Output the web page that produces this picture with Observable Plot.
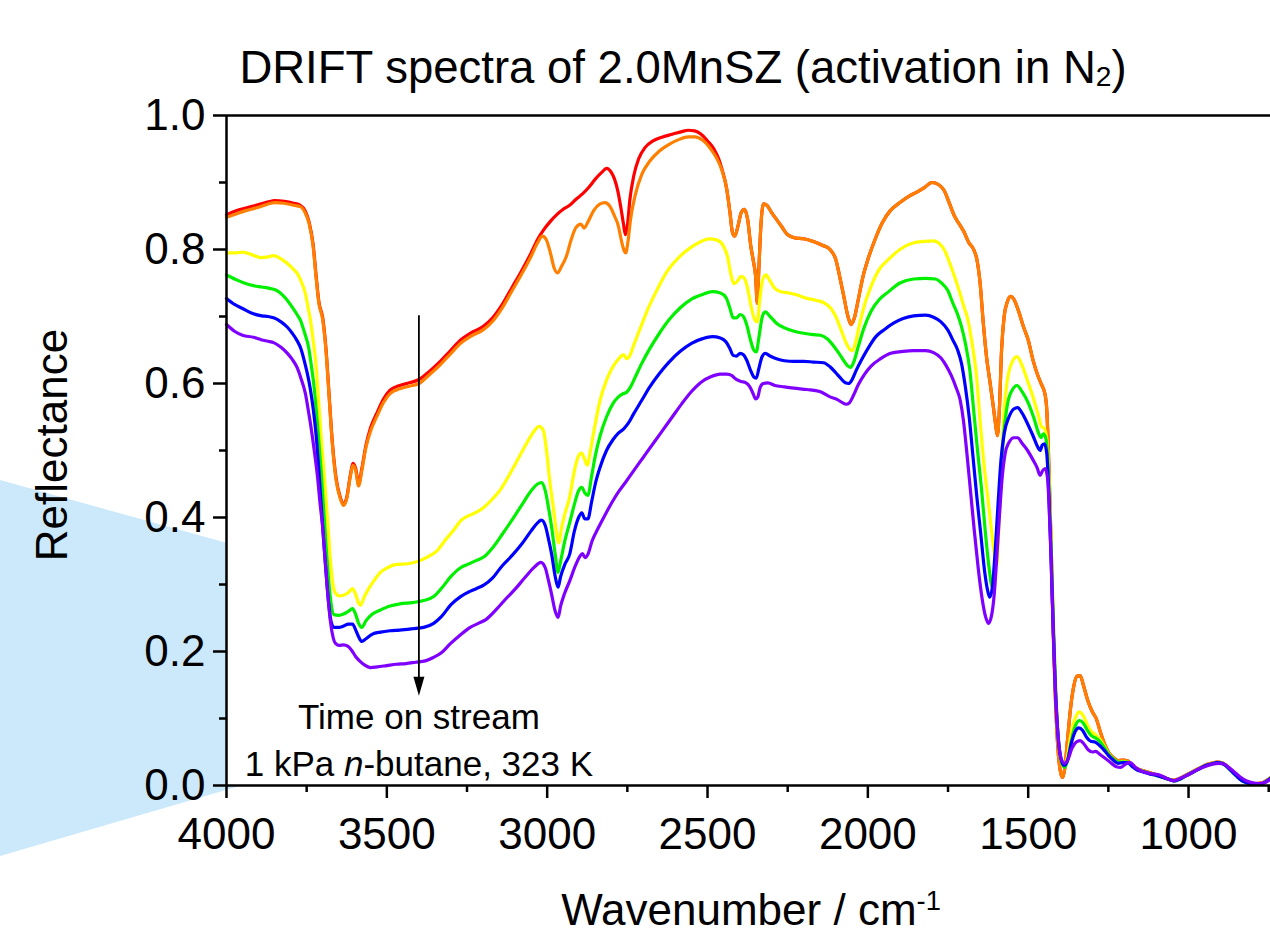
<!DOCTYPE html>
<html>
<head>
<meta charset="utf-8">
<script src="https://cdn.jsdelivr.net/npm/d3@7"></script>
<script src="https://cdn.jsdelivr.net/npm/@observablehq/plot@0.6"></script>
<style>
html, body { margin: 0; padding: 0; background: #fff; overflow: hidden; }
#wrap { position: relative; width: 1270px; height: 934px; font-family: "Liberation Sans", Arial, sans-serif; color: #000; }
#deco { position: absolute; left: 0; top: 0; }
#chart { position: absolute; left: 0; top: 0; }
.txt { position: absolute; white-space: nowrap; line-height: 1; }
#title { left: 0; width: 1366px; top: 45px; text-align: center; font-size: 45.5px; }
#title sub { font-size: 0.62em; vertical-align: -0.12em; line-height: 0; }
#ylab { left: 52px; top: 445px; font-size: 44px; transform: translate(-50%, -50%) rotate(-90deg); }
#xlab { left: 0; width: 1502px; top: 888px; text-align: center; font-size: 44px; }
#xlab sup { font-size: 0.62em; vertical-align: 0.55em; line-height: 0; }
</style>
</head>
<body>
<div id="wrap">
  <svg id="deco" width="1270" height="934"><polygon points="0,480 660,663 0,856" fill="#cce9fb"/></svg>
  <div id="chart"></div>
  <div class="txt" id="title">DRIFT spectra of 2.0MnSZ (activation in N<sub>2</sub>)</div>
  <div class="txt" id="ylab">Reflectance</div>
  <div class="txt" id="xlab">Wavenumber / cm<sup>-1</sup></div>
</div>
<script>
// ---- Data: [wavenumber (cm-1), reflectance] ----
const orange = [[4000,0.848],[3970,0.853],[3940,0.858],[3900,0.863],[3870,0.868],[3850,0.870],[3820,0.869],[3790,0.866],[3770,0.864],[3755,0.855],[3742,0.838],[3730,0.805],[3720,0.755],[3712,0.720],[3700,0.695],[3690,0.650],[3680,0.580],[3670,0.510],[3658,0.455],[3645,0.428],[3635,0.418],[3625,0.428],[3615,0.458],[3605,0.478],[3597,0.470],[3588,0.447],[3578,0.470],[3565,0.505],[3550,0.530],[3530,0.552],[3510,0.572],[3490,0.585],[3460,0.592],[3430,0.596],[3400,0.600],[3370,0.612],[3340,0.625],[3300,0.645],[3270,0.660],[3240,0.670],[3200,0.680],[3170,0.693],[3140,0.713],[3110,0.738],[3080,0.763],[3050,0.790],[3030,0.810],[3015,0.820],[3003,0.815],[2990,0.795],[2978,0.772],[2968,0.765],[2955,0.775],[2940,0.790],[2925,0.815],[2910,0.833],[2895,0.838],[2885,0.832],[2872,0.842],[2855,0.858],[2835,0.868],[2820,0.870],[2805,0.865],[2790,0.850],[2778,0.835],[2768,0.812],[2760,0.798],[2755,0.795],[2748,0.812],[2740,0.845],[2725,0.882],[2705,0.912],[2680,0.932],[2650,0.947],[2620,0.957],[2590,0.964],[2560,0.968],[2540,0.968],[2515,0.963],[2490,0.950],[2470,0.935],[2455,0.918],[2440,0.890],[2430,0.855],[2422,0.825],[2415,0.820],[2405,0.835],[2395,0.855],[2385,0.860],[2375,0.845],[2365,0.805],[2356,0.780],[2350,0.760],[2345,0.720],[2340,0.770],[2333,0.840],[2325,0.868],[2315,0.866],[2300,0.855],[2285,0.845],[2270,0.835],[2250,0.822],[2225,0.817],[2200,0.816],[2170,0.812],[2140,0.806],[2118,0.800],[2100,0.785],[2088,0.760],[2075,0.730],[2062,0.700],[2052,0.688],[2042,0.698],[2030,0.725],[2015,0.760],[2000,0.785],[1980,0.812],[1955,0.840],[1930,0.858],[1900,0.870],[1870,0.880],[1850,0.885],[1825,0.892],[1800,0.900],[1780,0.897],[1762,0.888],[1745,0.868],[1730,0.850],[1715,0.838],[1700,0.826],[1685,0.810],[1670,0.800],[1660,0.785],[1650,0.750],[1640,0.690],[1630,0.640],[1620,0.605],[1610,0.570],[1602,0.540],[1596,0.522],[1590,0.560],[1583,0.650],[1575,0.700],[1565,0.722],[1555,0.730],[1545,0.726],[1530,0.708],[1515,0.685],[1500,0.665],[1485,0.635],[1470,0.612],[1458,0.598],[1448,0.585],[1442,0.560],[1437,0.500],[1432,0.420],[1427,0.330],[1422,0.230],[1416,0.140],[1408,0.060],[1400,0.022],[1393,0.012],[1386,0.025],[1378,0.065],[1368,0.115],[1358,0.148],[1348,0.163],[1338,0.164],[1328,0.150],[1315,0.128],[1300,0.110],[1288,0.100],[1275,0.080],[1262,0.062],[1250,0.050],[1235,0.042],[1220,0.037],[1205,0.038],[1190,0.037],[1175,0.030],[1160,0.025],[1140,0.022],[1120,0.019],[1100,0.016],[1080,0.013],[1060,0.009],[1045,0.008],[1030,0.010],[1010,0.015],[990,0.020],[970,0.025],[950,0.030],[930,0.033],[910,0.035],[895,0.034],[880,0.029],[865,0.022],[850,0.015],[830,0.007],[810,0.004],[790,0.003],[770,0.004],[755,0.008],[740,0.013]];

const redHigh = [[4000,0.852],[3970,0.858],[3940,0.862],[3900,0.867],[3870,0.871],[3850,0.873],[3820,0.872],[3790,0.869],[3770,0.866],[3755,0.858],[3742,0.840],[3730,0.808],[3720,0.758],[3712,0.722],[3700,0.698],[3690,0.653],[3680,0.583],[3670,0.513],[3658,0.458],[3645,0.430],[3635,0.420],[3625,0.430],[3615,0.460],[3605,0.481],[3597,0.473],[3588,0.450],[3578,0.473],[3565,0.508],[3550,0.535],[3530,0.557],[3510,0.577],[3490,0.590],[3460,0.597],[3430,0.601],[3400,0.606],[3370,0.617],[3340,0.630],[3300,0.650],[3270,0.665],[3240,0.675],[3200,0.685],[3170,0.698],[3140,0.718],[3110,0.743],[3080,0.768],[3050,0.795],[3030,0.815],[3010,0.830],[2990,0.842],[2970,0.852],[2950,0.860],[2930,0.866],[2910,0.875],[2890,0.883],[2870,0.893],[2850,0.905],[2830,0.915],[2815,0.921],[2800,0.915],[2790,0.905],[2780,0.888],[2770,0.862],[2762,0.838],[2756,0.822],[2750,0.835],[2742,0.875],[2730,0.910],[2715,0.935],[2695,0.952],[2670,0.962],[2640,0.968],[2610,0.972],[2580,0.976],[2560,0.978],[2540,0.977],[2520,0.972],[2500,0.962],[2480,0.950],[2465,0.935],[2455,0.920]];
// below 2455 cm-1 the red spectrum coincides with the orange one
const red = redHigh.concat(orange.filter(d => d[0] < 2455));

const yellow = [[4000,0.795],[3970,0.795],[3950,0.796],[3920,0.792],[3894,0.788],[3870,0.789],[3853,0.791],[3830,0.786],[3810,0.779],[3790,0.770],[3779,0.764],[3765,0.750],[3754,0.734],[3745,0.712],[3738,0.694],[3730,0.665],[3722,0.634],[3715,0.590],[3707,0.534],[3698,0.480],[3691,0.436],[3683,0.385],[3676,0.336],[3668,0.300],[3660,0.287],[3648,0.283],[3635,0.284],[3620,0.288],[3607,0.294],[3597,0.285],[3588,0.272],[3582,0.269],[3570,0.282],[3555,0.295],[3541,0.305],[3520,0.318],[3498,0.325],[3470,0.330],[3435,0.331],[3395,0.336],[3370,0.342],[3342,0.351],[3320,0.365],[3292,0.381],[3270,0.395],[3248,0.402],[3220,0.408],[3198,0.415],[3170,0.428],[3145,0.442],[3120,0.462],[3090,0.488],[3065,0.510],[3042,0.528],[3025,0.536],[3012,0.530],[3002,0.500],[2992,0.455],[2980,0.412],[2970,0.375],[2964,0.362],[2955,0.385],[2945,0.405],[2930,0.430],[2915,0.470],[2902,0.492],[2893,0.496],[2884,0.488],[2875,0.478],[2865,0.500],[2852,0.535],[2835,0.575],[2815,0.605],[2795,0.625],[2775,0.638],[2762,0.643],[2752,0.637],[2742,0.642],[2728,0.660],[2710,0.682],[2685,0.712],[2655,0.742],[2625,0.768],[2590,0.788],[2555,0.802],[2520,0.812],[2495,0.816],[2470,0.814],[2450,0.805],[2438,0.790],[2428,0.765],[2418,0.749],[2408,0.752],[2395,0.760],[2385,0.757],[2375,0.742],[2364,0.715],[2354,0.697],[2345,0.692],[2337,0.725],[2328,0.755],[2318,0.762],[2305,0.753],[2290,0.742],[2270,0.737],[2245,0.735],[2220,0.732],[2190,0.727],[2160,0.724],[2135,0.720],[2115,0.712],[2100,0.700],[2085,0.682],[2070,0.663],[2058,0.652],[2048,0.649],[2038,0.662],[2025,0.690],[2010,0.718],[1990,0.745],[1965,0.770],[1938,0.784],[1900,0.800],[1857,0.810],[1825,0.812],[1795,0.813],[1775,0.808],[1760,0.798],[1745,0.780],[1730,0.760],[1715,0.738],[1700,0.714],[1688,0.695],[1675,0.660],[1662,0.615],[1650,0.545],[1638,0.480],[1626,0.430],[1613,0.375],[1603,0.337],[1598,0.328],[1592,0.380],[1585,0.460],[1575,0.560],[1564,0.608],[1550,0.632],[1535,0.640],[1520,0.628],[1502,0.604],[1485,0.580],[1468,0.552],[1458,0.535],[1452,0.534],[1446,0.528],[1440,0.505],[1434,0.440],[1428,0.350],[1422,0.250],[1415,0.150],[1407,0.075],[1398,0.040],[1388,0.028],[1378,0.042],[1366,0.078],[1352,0.102],[1340,0.110],[1328,0.104],[1315,0.090],[1302,0.080],[1290,0.076],[1275,0.068],[1262,0.058],[1250,0.048],[1235,0.040],[1220,0.035],[1205,0.036],[1190,0.035],[1175,0.029],[1160,0.024],[1140,0.021],[1120,0.018],[1100,0.015],[1080,0.012],[1060,0.009],[1045,0.007],[1030,0.009],[1010,0.014],[990,0.019],[970,0.024],[950,0.029],[930,0.032],[910,0.034],[895,0.033],[880,0.028],[865,0.021],[850,0.014],[830,0.006],[810,0.003],[790,0.002],[770,0.003],[755,0.007],[740,0.012]];

const green = [[4000,0.762],[3970,0.755],[3945,0.750],[3916,0.746],[3890,0.744],[3865,0.742],[3840,0.738],[3825,0.732],[3810,0.724],[3795,0.714],[3780,0.703],[3769,0.694],[3756,0.675],[3744,0.654],[3735,0.625],[3727,0.595],[3720,0.560],[3713,0.520],[3705,0.470],[3698,0.420],[3690,0.362],[3682,0.310],[3674,0.272],[3665,0.255],[3650,0.254],[3635,0.256],[3620,0.260],[3607,0.264],[3597,0.255],[3588,0.242],[3578,0.236],[3565,0.246],[3545,0.256],[3520,0.262],[3490,0.268],[3460,0.271],[3420,0.273],[3385,0.276],[3354,0.282],[3330,0.294],[3300,0.312],[3270,0.325],[3248,0.330],[3220,0.336],[3198,0.341],[3170,0.355],[3140,0.375],[3110,0.396],[3080,0.418],[3050,0.440],[3030,0.450],[3018,0.452],[3006,0.440],[2996,0.415],[2986,0.385],[2975,0.345],[2966,0.318],[2958,0.335],[2945,0.365],[2930,0.392],[2915,0.420],[2902,0.440],[2892,0.445],[2883,0.437],[2873,0.433],[2862,0.460],[2850,0.492],[2835,0.522],[2815,0.550],[2795,0.570],[2778,0.580],[2762,0.585],[2752,0.587],[2740,0.595],[2725,0.610],[2705,0.630],[2680,0.652],[2650,0.675],[2620,0.695],[2585,0.713],[2550,0.726],[2515,0.733],[2485,0.737],[2460,0.735],[2442,0.728],[2430,0.712],[2420,0.698],[2410,0.698],[2398,0.703],[2388,0.700],[2378,0.688],[2366,0.665],[2356,0.650],[2348,0.647],[2340,0.668],[2330,0.698],[2320,0.707],[2305,0.700],[2285,0.690],[2260,0.683],[2230,0.678],[2200,0.675],[2170,0.673],[2147,0.672],[2125,0.666],[2105,0.655],[2090,0.645],[2075,0.634],[2062,0.626],[2054,0.624],[2044,0.632],[2030,0.655],[2012,0.683],[1990,0.708],[1965,0.725],[1938,0.736],[1900,0.750],[1857,0.756],[1820,0.757],[1790,0.756],[1770,0.750],[1751,0.739],[1735,0.720],[1720,0.703],[1708,0.685],[1695,0.658],[1682,0.620],[1670,0.560],[1658,0.500],[1646,0.445],[1634,0.380],[1622,0.325],[1612,0.296],[1604,0.320],[1596,0.380],[1588,0.445],[1578,0.515],[1565,0.568],[1550,0.590],[1535,0.597],[1518,0.587],[1500,0.571],[1482,0.548],[1466,0.524],[1460,0.519],[1453,0.525],[1446,0.520],[1440,0.495],[1434,0.430],[1428,0.345],[1422,0.250],[1415,0.150],[1406,0.070],[1396,0.035],[1386,0.027],[1376,0.040],[1364,0.070],[1352,0.090],[1340,0.097],[1328,0.093],[1315,0.082],[1302,0.074],[1290,0.071],[1275,0.065],[1262,0.056],[1250,0.047],[1235,0.040],[1220,0.035],[1205,0.035],[1190,0.035],[1175,0.029],[1160,0.024],[1140,0.021],[1120,0.018],[1100,0.015],[1080,0.012],[1060,0.009],[1045,0.007],[1030,0.009],[1010,0.014],[990,0.019],[970,0.024],[950,0.029],[930,0.032],[910,0.034],[895,0.033],[880,0.028],[865,0.021],[850,0.014],[830,0.006],[810,0.003],[790,0.002],[770,0.003],[755,0.007],[740,0.012]];

const blue = [[4000,0.727],[3975,0.718],[3950,0.712],[3916,0.704],[3890,0.701],[3870,0.700],[3853,0.698],[3830,0.692],[3810,0.684],[3795,0.675],[3780,0.664],[3768,0.652],[3758,0.635],[3748,0.615],[3738,0.590],[3729,0.560],[3720,0.520],[3712,0.470],[3705,0.420],[3697,0.365],[3690,0.320],[3682,0.275],[3674,0.245],[3665,0.236],[3650,0.236],[3635,0.238],[3620,0.241],[3607,0.241],[3597,0.232],[3588,0.222],[3578,0.215],[3565,0.219],[3545,0.226],[3520,0.229],[3490,0.231],[3460,0.232],[3420,0.234],[3385,0.236],[3354,0.242],[3330,0.252],[3300,0.270],[3270,0.282],[3248,0.288],[3220,0.294],[3198,0.299],[3170,0.310],[3140,0.328],[3110,0.343],[3080,0.360],[3050,0.380],[3030,0.392],[3018,0.396],[3006,0.388],[2996,0.368],[2986,0.345],[2975,0.312],[2966,0.296],[2958,0.312],[2945,0.330],[2930,0.345],[2915,0.380],[2902,0.400],[2892,0.407],[2883,0.398],[2873,0.398],[2862,0.422],[2850,0.450],[2835,0.475],[2815,0.500],[2795,0.516],[2778,0.526],[2762,0.532],[2748,0.540],[2730,0.555],[2705,0.575],[2680,0.595],[2650,0.615],[2620,0.632],[2585,0.648],[2550,0.660],[2515,0.667],[2485,0.670],[2460,0.668],[2442,0.662],[2430,0.652],[2420,0.642],[2410,0.641],[2398,0.645],[2388,0.643],[2378,0.635],[2366,0.620],[2356,0.610],[2348,0.608],[2340,0.622],[2330,0.640],[2320,0.645],[2305,0.641],[2285,0.637],[2260,0.634],[2230,0.633],[2200,0.633],[2170,0.632],[2138,0.631],[2118,0.625],[2100,0.616],[2085,0.608],[2070,0.601],[2060,0.600],[2050,0.605],[2036,0.620],[2020,0.635],[2000,0.652],[1975,0.670],[1950,0.680],[1920,0.690],[1890,0.697],[1857,0.701],[1820,0.702],[1795,0.699],[1772,0.692],[1751,0.680],[1735,0.665],[1720,0.650],[1708,0.630],[1696,0.595],[1684,0.550],[1672,0.490],[1660,0.430],[1648,0.376],[1636,0.320],[1626,0.290],[1620,0.281],[1612,0.295],[1603,0.350],[1594,0.420],[1585,0.485],[1575,0.525],[1560,0.550],[1545,0.562],[1533,0.564],[1518,0.555],[1502,0.540],[1485,0.522],[1470,0.505],[1463,0.500],[1456,0.508],[1449,0.510],[1442,0.495],[1436,0.440],[1430,0.360],[1424,0.265],[1417,0.165],[1408,0.080],[1398,0.040],[1388,0.030],[1377,0.038],[1366,0.062],[1354,0.080],[1342,0.086],[1330,0.082],[1318,0.072],[1305,0.066],[1292,0.065],[1278,0.060],[1262,0.052],[1250,0.045],[1235,0.038],[1220,0.033],[1205,0.034],[1190,0.034],[1175,0.028],[1160,0.023],[1140,0.020],[1120,0.017],[1100,0.015],[1080,0.012],[1060,0.009],[1045,0.007],[1030,0.009],[1010,0.014],[990,0.019],[970,0.024],[950,0.029],[930,0.032],[910,0.034],[895,0.033],[880,0.028],[865,0.021],[850,0.014],[830,0.006],[810,0.003],[790,0.002],[770,0.003],[755,0.007],[740,0.012]];

const purple = [[4000,0.688],[3975,0.678],[3950,0.672],[3916,0.669],[3890,0.665],[3870,0.663],[3853,0.661],[3830,0.654],[3810,0.645],[3795,0.636],[3780,0.624],[3768,0.608],[3754,0.585],[3745,0.560],[3735,0.530],[3725,0.495],[3716,0.460],[3708,0.420],[3700,0.385],[3692,0.335],[3684,0.285],[3676,0.245],[3668,0.222],[3660,0.212],[3648,0.209],[3635,0.210],[3622,0.208],[3610,0.202],[3598,0.193],[3585,0.186],[3570,0.180],[3551,0.176],[3530,0.177],[3500,0.179],[3470,0.181],[3440,0.182],[3410,0.184],[3380,0.186],[3355,0.191],[3330,0.198],[3301,0.212],[3270,0.225],[3240,0.236],[3210,0.243],[3190,0.248],[3160,0.262],[3130,0.278],[3100,0.293],[3070,0.310],[3040,0.326],[3020,0.333],[3006,0.325],[2996,0.306],[2986,0.285],[2976,0.262],[2966,0.251],[2958,0.268],[2947,0.285],[2930,0.305],[2912,0.328],[2898,0.342],[2890,0.346],[2882,0.340],[2873,0.345],[2860,0.365],[2840,0.385],[2815,0.408],[2795,0.425],[2775,0.440],[2755,0.453],[2730,0.470],[2700,0.490],[2670,0.510],[2640,0.530],[2610,0.550],[2580,0.570],[2550,0.588],[2520,0.602],[2490,0.610],[2460,0.614],[2440,0.614],[2425,0.612],[2410,0.606],[2395,0.603],[2380,0.601],[2368,0.595],[2358,0.585],[2350,0.577],[2343,0.580],[2336,0.594],[2326,0.600],[2312,0.601],[2290,0.597],[2260,0.595],[2230,0.593],[2190,0.591],[2150,0.588],[2118,0.580],[2095,0.576],[2078,0.571],[2068,0.569],[2058,0.571],[2045,0.582],[2030,0.598],[2010,0.614],[1990,0.626],[1960,0.637],[1929,0.645],[1890,0.648],[1857,0.649],[1820,0.649],[1795,0.646],[1772,0.638],[1755,0.626],[1740,0.612],[1725,0.594],[1712,0.575],[1702,0.545],[1692,0.500],[1680,0.440],[1668,0.380],[1656,0.325],[1644,0.280],[1633,0.252],[1624,0.242],[1615,0.252],[1606,0.285],[1598,0.340],[1590,0.400],[1582,0.455],[1572,0.495],[1560,0.512],[1545,0.519],[1533,0.519],[1518,0.510],[1502,0.500],[1485,0.486],[1472,0.474],[1463,0.463],[1455,0.470],[1447,0.473],[1440,0.460],[1435,0.420],[1429,0.345],[1423,0.250],[1416,0.150],[1407,0.075],[1397,0.040],[1386,0.033],[1375,0.040],[1364,0.055],[1350,0.065],[1338,0.067],[1326,0.062],[1312,0.053],[1300,0.050],[1290,0.051],[1275,0.046],[1258,0.040],[1240,0.033],[1225,0.028],[1212,0.027],[1196,0.032],[1182,0.034],[1165,0.027],[1149,0.022],[1120,0.018],[1087,0.015],[1065,0.010],[1046,0.007],[1025,0.011],[1000,0.016],[975,0.023],[950,0.028],[925,0.032],[905,0.033],[890,0.032],[875,0.027],[859,0.021],[840,0.013],[820,0.007],[800,0.004],[780,0.003],[765,0.004],[752,0.007],[740,0.011]];

const seriesNames = ["spectrum 1", "spectrum 2", "spectrum 3", "spectrum 4", "spectrum 5", "spectrum 6"];
const seriesColors = ["#ff0000", "#ff7f00", "#ffff00", "#00f000", "#0000ff", "#7f00ff"];
const seriesData = [red, orange, yellow, green, blue, purple];

const xTicksMajor = [4000, 3500, 3000, 2500, 2000, 1500, 1000];
const xTicksMinor = [3750, 3250, 2750, 2250, 1750, 1250, 750];
const yTicksMajor = [0, 0.2, 0.4, 0.6, 0.8, 1.0];
const yTicksMinor = [0.1, 0.3, 0.5, 0.7, 0.9];

// Annotation: arrow "Time on stream"
const arrow = [{wn: 3400, top: 0.701, base: 0.150, tip: 0.134}];
const notes = [
  {wn: 3400, r: 0.101, label: "Time on stream"},
  {wn: 3400, r: 0.031, label: "1 kPa n-butane, 323 K"}
];

const rows = seriesNames.flatMap((name, i) => seriesData[i].map(([wn, r]) => ({series: name, wn, r})));

const arrowHead = {
  draw(ctx) {
    ctx.moveTo(0, 0);
    ctx.lineTo(-5.5, -19);
    ctx.lineTo(5.5, -19);
    ctx.closePath();
  }
};

const plot = Plot.plot({
  width: 1270,
  height: 934,
  marginTop: 115,
  marginBottom: 149,
  marginLeft: 226,
  marginRight: 0,
  style: {background: "transparent", fontFamily: "'Liberation Sans', Arial, sans-serif", fontSize: "44px", color: "#000"},
  x: {domain: [4000, 744.4], label: null, axis: null},
  y: {domain: [0, 1], label: null, axis: null},
  color: {type: "ordinal", domain: seriesNames, range: seriesColors},
  marks: [
    Plot.frame({fill: "white", stroke: null}),
    Plot.line(rows, {x: "wn", y: "r", z: "series", stroke: "series", strokeWidth: 3.2, curve: "monotone-x"}),
    Plot.ruleX(arrow, {x: "wn", y1: "top", y2: "base", stroke: "black", strokeWidth: 1.8}),
    Plot.dot(arrow, {x: "wn", y: "tip", symbol: arrowHead, fill: "black", stroke: null, r: 3}),
    Plot.text(notes, {x: "wn", y: "r", text: "label", fontSize: 35, textAnchor: "middle", lineAnchor: "middle", fill: "black"}),
    Plot.axisY(yTicksMajor, {anchor: "left", tickSize: 13, tickPadding: 8, tickFormat: d3.format(".1f"), strokeWidth: 2.5, fontSize: 44, label: null}),
    Plot.axisY(yTicksMinor, {anchor: "left", tickSize: 7, tickFormat: () => "", strokeWidth: 2.5, label: null}),
    Plot.axisX(xTicksMajor, {anchor: "bottom", tickSize: 13, tickPadding: 19, tickFormat: d => String(d), strokeWidth: 2.5, fontSize: 44, label: null}),
    Plot.axisX(xTicksMinor, {anchor: "bottom", tickSize: 7, tickFormat: () => "", strokeWidth: 2.5, label: null}),
    Plot.ruleY([0, 1], {stroke: "black", strokeWidth: 2.5}),
    Plot.ruleX([4000], {stroke: "black", strokeWidth: 2.5})
  ]
});

// italic "n" in n-butane
plot.querySelectorAll("text").forEach(t => {
  if (t.textContent === "1 kPa n-butane, 323 K") {
    t.innerHTML = '1 kPa <tspan font-style="italic">n</tspan>-butane, 323 K';
  }
});

document.getElementById("chart").appendChild(plot);
</script>
</body>
</html>
